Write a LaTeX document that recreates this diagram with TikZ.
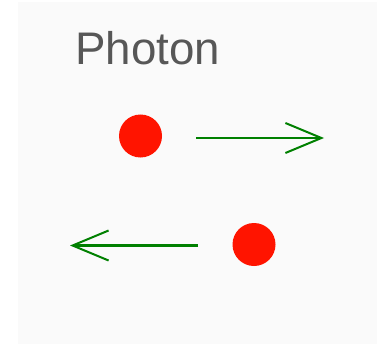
\documentclass[tikz,border=0pt]{standalone}
\usepackage{fontspec}
\setmainfont{Liberation Sans}
\usepackage{tikz}
\usetikzlibrary{arrows.meta}

\definecolor{bggray}{RGB}{250,250,250}
\definecolor{photonred}{RGB}{255,20,0}
\definecolor{arrowgreen}{RGB}{0,128,0}

\begin{document}
\begin{tikzpicture}[x=0.03cm,y=-0.03cm]
            \tikzstyle{every node}+=[inner sep=0pt]
            \tikzstyle{particle}=[circle, fill=photonred, minimum size=43*0.03cm]
            \tikzstyle{motion}=[arrowgreen, line width=2.6*0.03cm, -{Straight Barb[length=36*0.03cm, width=30*0.03cm, line width=2*0.03cm]}]
            \useasboundingbox (0,0) rectangle (377,344);
            \fill [white] (0,0) rectangle (377,344);
            \fill [bggray] (18,2) rectangle (377,344);
            \node [anchor=base west, text=black!66, font=\fontsize{39}{41}\selectfont] (title) at (75,65) {Photon};
            \node [particle] (p1) at (140.5,136) {};
            \node [particle] (p2) at (254,244.5) {};
            \coordinate (a1s) at (196,138);
            \coordinate (a1e) at (324,138);
            \coordinate (a2s) at (198,245.5);
            \coordinate (a2e) at (70,245.5);
            \draw [motion] (a1s) -- (a1e);
            \draw [motion] (a2s) -- (a2e);
\end{tikzpicture}
\end{document}
